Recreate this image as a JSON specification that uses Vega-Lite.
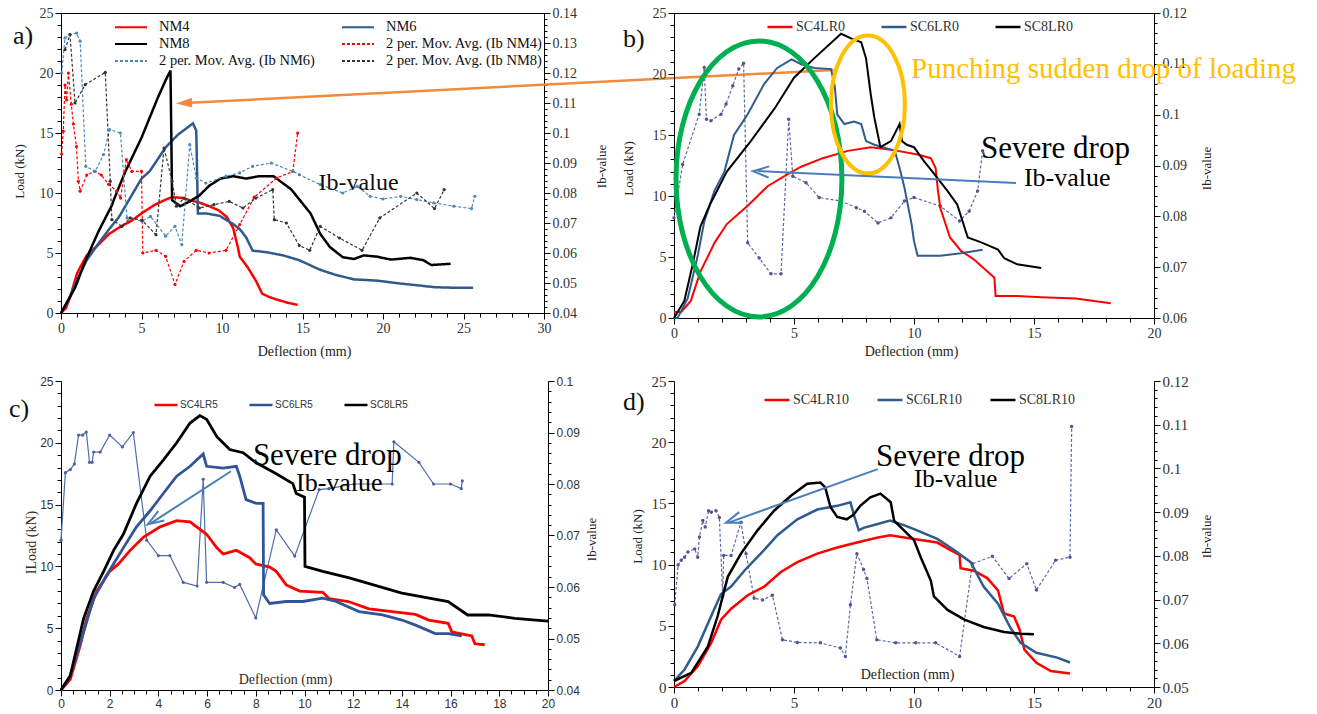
{
"$schema": "https://vega.github.io/schema/vega-lite/v6.json",
"background": "white",
"padding": {"left": 8, "top": 5, "right": 5, "bottom": 5},
"config": {"view": {"stroke": null}, "axis": {"grid": false, "labelOverlap": false, "domainColor": "#000", "tickColor": "#000", "titleFontWeight": "normal", "labelFlush": false}, "legend": {"padding": 0}, "font": "Liberation Serif"},
"columns": 2,
"bounds": "flush",
"spacing": {"row": 63, "column": 126},
"resolve": {"scale": {"color": "independent", "strokeDash": "independent"}, "legend": {"color": "independent", "strokeDash": "independent"}},
"datasets": {
"a_load": [
{"s":"NM4","x":0,"y":0},{"s":"NM4","x":0.3,"y":0.4},{"s":"NM4","x":0.56,"y":1.3},{"s":"NM4","x":0.8,"y":2.4},{"s":"NM4","x":1.0,"y":3.3},{"s":"NM4","x":1.19,"y":3.8},{"s":"NM4","x":1.6,"y":4.8},{"s":"NM4","x":2.33,"y":5.7},{"s":"NM4","x":3.0,"y":6.6},{"s":"NM4","x":3.7,"y":7.2},{"s":"NM4","x":4.4,"y":7.7},{"s":"NM4","x":5.0,"y":8.3},{"s":"NM4","x":5.8,"y":9.0},{"s":"NM4","x":6.5,"y":9.45},{"s":"NM4","x":6.9,"y":9.65},{"s":"NM4","x":7.5,"y":9.6},{"s":"NM4","x":8.0,"y":9.4},{"s":"NM4","x":8.6,"y":9.2},{"s":"NM4","x":9.2,"y":8.9},{"s":"NM4","x":9.8,"y":8.55},{"s":"NM4","x":10.3,"y":8.0},{"s":"NM4","x":10.7,"y":7.05},{"s":"NM4","x":11.0,"y":5.4},{"s":"NM4","x":11.1,"y":4.7},{"s":"NM4","x":11.6,"y":3.8},{"s":"NM4","x":12.1,"y":2.7},{"s":"NM4","x":12.5,"y":1.6},{"s":"NM4","x":13.0,"y":1.3},{"s":"NM4","x":13.6,"y":1.04},{"s":"NM4","x":14.1,"y":0.85},{"s":"NM4","x":14.7,"y":0.68},
{"s":"NM6","x":0,"y":0},{"s":"NM6","x":0.5,"y":1.2},{"s":"NM6","x":1.08,"y":3.0},{"s":"NM6","x":1.6,"y":4.4},{"s":"NM6","x":2.33,"y":5.8},{"s":"NM6","x":3.0,"y":7.0},{"s":"NM6","x":3.6,"y":8.0},{"s":"NM6","x":4.3,"y":9.6},{"s":"NM6","x":5.0,"y":11.2},{"s":"NM6","x":5.5,"y":11.8},{"s":"NM6","x":6.0,"y":12.8},{"s":"NM6","x":6.5,"y":13.8},{"s":"NM6","x":7.0,"y":14.5},{"s":"NM6","x":7.3,"y":14.9},{"s":"NM6","x":7.8,"y":15.4},{"s":"NM6","x":8.2,"y":15.8},{"s":"NM6","x":8.4,"y":15.2},{"s":"NM6","x":8.45,"y":12.0},{"s":"NM6","x":8.5,"y":8.3},{"s":"NM6","x":9.0,"y":8.3},{"s":"NM6","x":9.85,"y":8.1},{"s":"NM6","x":10.65,"y":7.45},{"s":"NM6","x":11.1,"y":7.0},{"s":"NM6","x":11.5,"y":6.3},{"s":"NM6","x":11.9,"y":5.2},{"s":"NM6","x":12.75,"y":5.07},{"s":"NM6","x":13.8,"y":4.8},{"s":"NM6","x":14.8,"y":4.4},{"s":"NM6","x":16.1,"y":3.6},{"s":"NM6","x":17.0,"y":3.2},{"s":"NM6","x":18.2,"y":2.8},{"s":"NM6","x":19.6,"y":2.7},{"s":"NM6","x":21.1,"y":2.45},{"s":"NM6","x":22.2,"y":2.3},{"s":"NM6","x":23.2,"y":2.15},{"s":"NM6","x":24.5,"y":2.1},{"s":"NM6","x":25.6,"y":2.1},
{"s":"NM8","x":0,"y":0},{"s":"NM8","x":0.5,"y":1.2},{"s":"NM8","x":0.875,"y":2.1},{"s":"NM8","x":1.5,"y":4.3},{"s":"NM8","x":2.33,"y":6.8},{"s":"NM8","x":3.17,"y":9.0},{"s":"NM8","x":3.3,"y":9.5},{"s":"NM8","x":4.0,"y":11.8},{"s":"NM8","x":5.0,"y":14.6},{"s":"NM8","x":6.0,"y":17.9},{"s":"NM8","x":6.5,"y":19.4},{"s":"NM8","x":6.8,"y":20.2},{"s":"NM8","x":6.85,"y":15.0},{"s":"NM8","x":6.9,"y":9.4},{"s":"NM8","x":7.4,"y":8.9},{"s":"NM8","x":8.0,"y":9.3},{"s":"NM8","x":8.6,"y":9.8},{"s":"NM8","x":9.2,"y":10.6},{"s":"NM8","x":9.9,"y":11.2},{"s":"NM8","x":10.7,"y":11.4},{"s":"NM8","x":11.5,"y":11.2},{"s":"NM8","x":12.3,"y":11.4},{"s":"NM8","x":13.2,"y":11.4},{"s":"NM8","x":13.6,"y":11.0},{"s":"NM8","x":14.3,"y":10.3},{"s":"NM8","x":14.9,"y":9.3},{"s":"NM8","x":15.5,"y":8.3},{"s":"NM8","x":16.1,"y":6.6},{"s":"NM8","x":16.7,"y":5.5},{"s":"NM8","x":17.5,"y":4.65},{"s":"NM8","x":18.2,"y":4.5},{"s":"NM8","x":18.8,"y":4.8},{"s":"NM8","x":19.6,"y":4.7},{"s":"NM8","x":20.5,"y":4.45},{"s":"NM8","x":21.7,"y":4.6},{"s":"NM8","x":22.5,"y":4.4},{"s":"NM8","x":23.0,"y":4.0},{"s":"NM8","x":24.2,"y":4.1}
],
"a_ib": [
{"s":"2 per. Mov. Avg. (Ib NM4)","x":0.04,"y":0.093},{"s":"2 per. Mov. Avg. (Ib NM4)","x":0.14,"y":0.1006},{"s":"2 per. Mov. Avg. (Ib NM4)","x":0.25,"y":0.116},{"s":"2 per. Mov. Avg. (Ib NM4)","x":0.35,"y":0.111},{"s":"2 per. Mov. Avg. (Ib NM4)","x":0.46,"y":0.12},{"s":"2 per. Mov. Avg. (Ib NM4)","x":0.64,"y":0.1096},{"s":"2 per. Mov. Avg. (Ib NM4)","x":0.77,"y":0.103},{"s":"2 per. Mov. Avg. (Ib NM4)","x":0.96,"y":0.0955},{"s":"2 per. Mov. Avg. (Ib NM4)","x":1.08,"y":0.0839},{"s":"2 per. Mov. Avg. (Ib NM4)","x":1.19,"y":0.0806},{"s":"2 per. Mov. Avg. (Ib NM4)","x":1.6,"y":0.086},{"s":"2 per. Mov. Avg. (Ib NM4)","x":2.1,"y":0.0872},{"s":"2 per. Mov. Avg. (Ib NM4)","x":2.5,"y":0.086},{"s":"2 per. Mov. Avg. (Ib NM4)","x":2.96,"y":0.0829},{"s":"2 per. Mov. Avg. (Ib NM4)","x":3.46,"y":0.0806},{"s":"2 per. Mov. Avg. (Ib NM4)","x":3.7,"y":0.0783},{"s":"2 per. Mov. Avg. (Ib NM4)","x":4.06,"y":0.0911},{"s":"2 per. Mov. Avg. (Ib NM4)","x":4.4,"y":0.0872},{"s":"2 per. Mov. Avg. (Ib NM4)","x":5.0,"y":0.0872},{"s":"2 per. Mov. Avg. (Ib NM4)","x":5.08,"y":0.06},{"s":"2 per. Mov. Avg. (Ib NM4)","x":5.9,"y":0.0609},{"s":"2 per. Mov. Avg. (Ib NM4)","x":6.5,"y":0.0589},{"s":"2 per. Mov. Avg. (Ib NM4)","x":7.08,"y":0.0495},{"s":"2 per. Mov. Avg. (Ib NM4)","x":7.64,"y":0.0572},{"s":"2 per. Mov. Avg. (Ib NM4)","x":8.4,"y":0.0609},{"s":"2 per. Mov. Avg. (Ib NM4)","x":9.2,"y":0.06},{"s":"2 per. Mov. Avg. (Ib NM4)","x":10.25,"y":0.0609},{"s":"2 per. Mov. Avg. (Ib NM4)","x":11.1,"y":0.0695},{"s":"2 per. Mov. Avg. (Ib NM4)","x":12.0,"y":0.0786},{"s":"2 per. Mov. Avg. (Ib NM4)","x":13.4,"y":0.085},{"s":"2 per. Mov. Avg. (Ib NM4)","x":14.4,"y":0.0872},{"s":"2 per. Mov. Avg. (Ib NM4)","x":14.7,"y":0.1},
{"s":"2 per. Mov. Avg. (Ib NM6)","x":0.04,"y":0.12},{"s":"2 per. Mov. Avg. (Ib NM6)","x":0.25,"y":0.1317},{"s":"2 per. Mov. Avg. (Ib NM6)","x":0.56,"y":0.1328},{"s":"2 per. Mov. Avg. (Ib NM6)","x":0.97,"y":0.1333},{"s":"2 per. Mov. Avg. (Ib NM6)","x":1.19,"y":0.1306},{"s":"2 per. Mov. Avg. (Ib NM6)","x":1.54,"y":0.0889},{"s":"2 per. Mov. Avg. (Ib NM6)","x":2.12,"y":0.0872},{"s":"2 per. Mov. Avg. (Ib NM6)","x":2.64,"y":0.0928},{"s":"2 per. Mov. Avg. (Ib NM6)","x":3.02,"y":0.1011},{"s":"2 per. Mov. Avg. (Ib NM6)","x":3.69,"y":0.1},{"s":"2 per. Mov. Avg. (Ib NM6)","x":4.1,"y":0.0717},{"s":"2 per. Mov. Avg. (Ib NM6)","x":5.04,"y":0.0706},{"s":"2 per. Mov. Avg. (Ib NM6)","x":5.56,"y":0.0722},{"s":"2 per. Mov. Avg. (Ib NM6)","x":6.5,"y":0.0656},{"s":"2 per. Mov. Avg. (Ib NM6)","x":7.08,"y":0.0689},{"s":"2 per. Mov. Avg. (Ib NM6)","x":7.5,"y":0.0628},{"s":"2 per. Mov. Avg. (Ib NM6)","x":8.0,"y":0.0961},{"s":"2 per. Mov. Avg. (Ib NM6)","x":8.4,"y":0.085},{"s":"2 per. Mov. Avg. (Ib NM6)","x":9.0,"y":0.0833},{"s":"2 per. Mov. Avg. (Ib NM6)","x":10.25,"y":0.0856},{"s":"2 per. Mov. Avg. (Ib NM6)","x":11.1,"y":0.0867},{"s":"2 per. Mov. Avg. (Ib NM6)","x":11.9,"y":0.0889},{"s":"2 per. Mov. Avg. (Ib NM6)","x":13.06,"y":0.09},{"s":"2 per. Mov. Avg. (Ib NM6)","x":14.4,"y":0.0872},{"s":"2 per. Mov. Avg. (Ib NM6)","x":14.8,"y":0.0861},{"s":"2 per. Mov. Avg. (Ib NM6)","x":16.1,"y":0.0828},{"s":"2 per. Mov. Avg. (Ib NM6)","x":17.5,"y":0.08},{"s":"2 per. Mov. Avg. (Ib NM6)","x":18.4,"y":0.0822},{"s":"2 per. Mov. Avg. (Ib NM6)","x":19.2,"y":0.0789},{"s":"2 per. Mov. Avg. (Ib NM6)","x":20.0,"y":0.078},{"s":"2 per. Mov. Avg. (Ib NM6)","x":21.1,"y":0.0789},{"s":"2 per. Mov. Avg. (Ib NM6)","x":22.1,"y":0.0778},{"s":"2 per. Mov. Avg. (Ib NM6)","x":23.15,"y":0.0767},{"s":"2 per. Mov. Avg. (Ib NM6)","x":24.4,"y":0.0756},{"s":"2 per. Mov. Avg. (Ib NM6)","x":25.5,"y":0.0748},{"s":"2 per. Mov. Avg. (Ib NM6)","x":25.7,"y":0.0789},
{"s":"2 per. Mov. Avg. (Ib NM8)","x":0.25,"y":0.1278},{"s":"2 per. Mov. Avg. (Ib NM8)","x":0.56,"y":0.1328},{"s":"2 per. Mov. Avg. (Ib NM8)","x":0.87,"y":0.11},{"s":"2 per. Mov. Avg. (Ib NM8)","x":1.5,"y":0.1161},{"s":"2 per. Mov. Avg. (Ib NM8)","x":2.75,"y":0.1202},{"s":"2 per. Mov. Avg. (Ib NM8)","x":3.06,"y":0.0839},{"s":"2 per. Mov. Avg. (Ib NM8)","x":3.16,"y":0.0711},{"s":"2 per. Mov. Avg. (Ib NM8)","x":3.79,"y":0.0689},{"s":"2 per. Mov. Avg. (Ib NM8)","x":4.3,"y":0.0717},{"s":"2 per. Mov. Avg. (Ib NM8)","x":5.04,"y":0.0709},{"s":"2 per. Mov. Avg. (Ib NM8)","x":5.9,"y":0.0661},{"s":"2 per. Mov. Avg. (Ib NM8)","x":6.4,"y":0.095},{"s":"2 per. Mov. Avg. (Ib NM8)","x":6.9,"y":0.0839},{"s":"2 per. Mov. Avg. (Ib NM8)","x":7.17,"y":0.0756},{"s":"2 per. Mov. Avg. (Ib NM8)","x":7.64,"y":0.0783},{"s":"2 per. Mov. Avg. (Ib NM8)","x":8.6,"y":0.075},{"s":"2 per. Mov. Avg. (Ib NM8)","x":9.5,"y":0.0761},{"s":"2 per. Mov. Avg. (Ib NM8)","x":10.45,"y":0.0772},{"s":"2 per. Mov. Avg. (Ib NM8)","x":11.3,"y":0.075},{"s":"2 per. Mov. Avg. (Ib NM8)","x":12.1,"y":0.0783},{"s":"2 per. Mov. Avg. (Ib NM8)","x":13.15,"y":0.0811},{"s":"2 per. Mov. Avg. (Ib NM8)","x":13.25,"y":0.0711},{"s":"2 per. Mov. Avg. (Ib NM8)","x":14.0,"y":0.07},{"s":"2 per. Mov. Avg. (Ib NM8)","x":14.8,"y":0.0625},{"s":"2 per. Mov. Avg. (Ib NM8)","x":15.45,"y":0.0609},{"s":"2 per. Mov. Avg. (Ib NM8)","x":16.1,"y":0.0689},{"s":"2 per. Mov. Avg. (Ib NM8)","x":17.3,"y":0.065},{"s":"2 per. Mov. Avg. (Ib NM8)","x":18.7,"y":0.0609},{"s":"2 per. Mov. Avg. (Ib NM8)","x":19.8,"y":0.0717},{"s":"2 per. Mov. Avg. (Ib NM8)","x":22.1,"y":0.08},{"s":"2 per. Mov. Avg. (Ib NM8)","x":23.2,"y":0.0748},{"s":"2 per. Mov. Avg. (Ib NM8)","x":23.8,"y":0.0811}
],
"b_load": [
{"s":"SC4LR0","x":0,"y":0.5},{"s":"SC4LR0","x":0.3,"y":0.5},{"s":"SC4LR0","x":0.7,"y":1.4},{"s":"SC4LR0","x":1.1,"y":3.8},{"s":"SC4LR0","x":1.7,"y":6.2},{"s":"SC4LR0","x":2.2,"y":7.7},{"s":"SC4LR0","x":3.07,"y":9.2},{"s":"SC4LR0","x":3.9,"y":10.8},{"s":"SC4LR0","x":4.74,"y":11.8},{"s":"SC4LR0","x":5.3,"y":12.4},{"s":"SC4LR0","x":6.2,"y":13.1},{"s":"SC4LR0","x":7.24,"y":13.7},{"s":"SC4LR0","x":8.2,"y":14.0},{"s":"SC4LR0","x":9.04,"y":13.8},{"s":"SC4LR0","x":10.15,"y":13.4},{"s":"SC4LR0","x":10.7,"y":13.1},{"s":"SC4LR0","x":10.9,"y":12.3},{"s":"SC4LR0","x":11.0,"y":10.4},{"s":"SC4LR0","x":11.1,"y":9.0},{"s":"SC4LR0","x":11.5,"y":6.6},{"s":"SC4LR0","x":11.96,"y":5.5},{"s":"SC4LR0","x":12.5,"y":4.8},{"s":"SC4LR0","x":13.07,"y":3.8},{"s":"SC4LR0","x":13.35,"y":3.3},{"s":"SC4LR0","x":13.4,"y":1.8},{"s":"SC4LR0","x":14.3,"y":1.8},{"s":"SC4LR0","x":15.3,"y":1.7},{"s":"SC4LR0","x":16.75,"y":1.6},{"s":"SC4LR0","x":17.5,"y":1.4},{"s":"SC4LR0","x":18.2,"y":1.2},
{"s":"SC6LR0","x":0,"y":0},{"s":"SC6LR0","x":0.15,"y":0},{"s":"SC6LR0","x":0.57,"y":1.6},{"s":"SC6LR0","x":1.0,"y":5.2},{"s":"SC6LR0","x":1.26,"y":7.9},{"s":"SC6LR0","x":1.68,"y":10.4},{"s":"SC6LR0","x":2.1,"y":12.0},{"s":"SC6LR0","x":2.5,"y":15.0},{"s":"SC6LR0","x":3.07,"y":16.7},{"s":"SC6LR0","x":3.76,"y":19.2},{"s":"SC6LR0","x":4.3,"y":20.5},{"s":"SC6LR0","x":4.9,"y":21.2},{"s":"SC6LR0","x":5.3,"y":20.8},{"s":"SC6LR0","x":5.85,"y":20.5},{"s":"SC6LR0","x":6.54,"y":20.4},{"s":"SC6LR0","x":6.7,"y":19.0},{"s":"SC6LR0","x":6.8,"y":16.7},{"s":"SC6LR0","x":7.1,"y":15.9},{"s":"SC6LR0","x":7.5,"y":16.1},{"s":"SC6LR0","x":7.8,"y":15.9},{"s":"SC6LR0","x":8.0,"y":14.5},{"s":"SC6LR0","x":8.35,"y":14.2},{"s":"SC6LR0","x":9.2,"y":13.7},{"s":"SC6LR0","x":9.4,"y":12.3},{"s":"SC6LR0","x":9.6,"y":10.7},{"s":"SC6LR0","x":9.9,"y":7.7},{"s":"SC6LR0","x":10.0,"y":6.3},{"s":"SC6LR0","x":10.15,"y":5.1},{"s":"SC6LR0","x":11.1,"y":5.1},{"s":"SC6LR0","x":11.96,"y":5.3},{"s":"SC6LR0","x":12.86,"y":5.6},
{"s":"SC8LR0","x":0,"y":0},{"s":"SC8LR0","x":0.43,"y":1.4},{"s":"SC8LR0","x":0.78,"y":4.4},{"s":"SC8LR0","x":1.1,"y":7.5},{"s":"SC8LR0","x":1.5,"y":9.3},{"s":"SC8LR0","x":2.2,"y":12.0},{"s":"SC8LR0","x":3.2,"y":14.5},{"s":"SC8LR0","x":4.2,"y":17.2},{"s":"SC8LR0","x":5.0,"y":19.7},{"s":"SC8LR0","x":5.85,"y":21.3},{"s":"SC8LR0","x":6.96,"y":23.3},{"s":"SC8LR0","x":7.4,"y":22.9},{"s":"SC8LR0","x":7.8,"y":22.6},{"s":"SC8LR0","x":8.0,"y":21.3},{"s":"SC8LR0","x":8.2,"y":18.3},{"s":"SC8LR0","x":8.35,"y":16.4},{"s":"SC8LR0","x":8.6,"y":14.0},{"s":"SC8LR0","x":9.04,"y":14.5},{"s":"SC8LR0","x":9.4,"y":15.9},{"s":"SC8LR0","x":9.5,"y":14.5},{"s":"SC8LR0","x":9.7,"y":14.2},{"s":"SC8LR0","x":10.0,"y":14.0},{"s":"SC8LR0","x":10.4,"y":12.9},{"s":"SC8LR0","x":10.85,"y":11.8},{"s":"SC8LR0","x":11.4,"y":10.4},{"s":"SC8LR0","x":11.8,"y":9.3},{"s":"SC8LR0","x":12.24,"y":6.6},{"s":"SC8LR0","x":12.8,"y":6.2},{"s":"SC8LR0","x":13.5,"y":5.6},{"s":"SC8LR0","x":13.76,"y":4.9},{"s":"SC8LR0","x":14.3,"y":4.4},{"s":"SC8LR0","x":15.3,"y":4.1}
],
"b_ib": [
{"x":0,"y":0.0797},{"x":0.36,"y":0.0902},{"x":1.05,"y":0.1001},{"x":1.26,"y":0.1093},{"x":1.35,"y":0.0991},{"x":1.54,"y":0.0988},{"x":1.96,"y":0.1001},{"x":2.17,"y":0.1021},{"x":2.45,"y":0.1057},{"x":2.7,"y":0.109},{"x":2.9,"y":0.1101},{"x":3.07,"y":0.0748},{"x":3.55,"y":0.0718},{"x":4.04,"y":0.0687},{"x":4.46,"y":0.0687},{"x":4.78,"y":0.0991},{"x":4.95,"y":0.0879},{"x":5.5,"y":0.0866},{"x":6.05,"y":0.0837},{"x":6.96,"y":0.083},{"x":7.6,"y":0.0817},{"x":7.93,"y":0.081},{"x":8.5,"y":0.0787},{"x":9.04,"y":0.0797},{"x":9.6,"y":0.083},{"x":10.0,"y":0.0837},{"x":11.1,"y":0.082},{"x":11.9,"y":0.0791},{"x":12.3,"y":0.081},{"x":12.65,"y":0.085},{"x":12.86,"y":0.0929}
],
"c_load": [
{"s":"SC4LR5","x":0,"y":0},{"s":"SC4LR5","x":0.38,"y":0.87},{"s":"SC4LR5","x":0.79,"y":3.6},{"s":"SC4LR5","x":1.06,"y":5.8},{"s":"SC4LR5","x":1.47,"y":8.0},{"s":"SC4LR5","x":2.0,"y":9.6},{"s":"SC4LR5","x":2.36,"y":10.2},{"s":"SC4LR5","x":2.84,"y":11.3},{"s":"SC4LR5","x":3.38,"y":12.35},{"s":"SC4LR5","x":4.07,"y":13.2},{"s":"SC4LR5","x":4.75,"y":13.7},{"s":"SC4LR5","x":5.3,"y":13.6},{"s":"SC4LR5","x":5.57,"y":13.2},{"s":"SC4LR5","x":5.98,"y":12.6},{"s":"SC4LR5","x":6.4,"y":11.5},{"s":"SC4LR5","x":6.66,"y":11.0},{"s":"SC4LR5","x":7.2,"y":11.3},{"s":"SC4LR5","x":7.75,"y":10.7},{"s":"SC4LR5","x":8.0,"y":10.2},{"s":"SC4LR5","x":8.57,"y":9.95},{"s":"SC4LR5","x":8.84,"y":9.6},{"s":"SC4LR5","x":9.25,"y":8.5},{"s":"SC4LR5","x":9.8,"y":8.0},{"s":"SC4LR5","x":10.75,"y":7.9},{"s":"SC4LR5","x":11.0,"y":7.4},{"s":"SC4LR5","x":11.8,"y":7.16},{"s":"SC4LR5","x":12.65,"y":6.56},{"s":"SC4LR5","x":13.6,"y":6.34},{"s":"SC4LR5","x":14.56,"y":6.12},{"s":"SC4LR5","x":15.1,"y":5.66},{"s":"SC4LR5","x":15.9,"y":5.4},{"s":"SC4LR5","x":16.05,"y":4.7},{"s":"SC4LR5","x":16.87,"y":4.37},{"s":"SC4LR5","x":17.0,"y":3.74},{"s":"SC4LR5","x":17.4,"y":3.66},
{"s":"SC6LR5","x":0,"y":0},{"s":"SC6LR5","x":0.38,"y":1.15},{"s":"SC6LR5","x":0.93,"y":4.7},{"s":"SC6LR5","x":1.34,"y":7.4},{"s":"SC6LR5","x":1.88,"y":9.3},{"s":"SC6LR5","x":2.56,"y":11.5},{"s":"SC6LR5","x":3.1,"y":13.2},{"s":"SC6LR5","x":3.66,"y":14.5},{"s":"SC6LR5","x":4.2,"y":15.9},{"s":"SC6LR5","x":4.75,"y":17.3},{"s":"SC6LR5","x":5.3,"y":18.1},{"s":"SC6LR5","x":5.84,"y":19.1},{"s":"SC6LR5","x":5.98,"y":18.1},{"s":"SC6LR5","x":6.66,"y":17.95},{"s":"SC6LR5","x":7.2,"y":18.1},{"s":"SC6LR5","x":7.34,"y":17.3},{"s":"SC6LR5","x":7.6,"y":15.4},{"s":"SC6LR5","x":8.02,"y":15.1},{"s":"SC6LR5","x":8.3,"y":15.1},{"s":"SC6LR5","x":8.32,"y":7.7},{"s":"SC6LR5","x":8.57,"y":7.0},{"s":"SC6LR5","x":9.25,"y":7.16},{"s":"SC6LR5","x":9.93,"y":7.16},{"s":"SC6LR5","x":10.75,"y":7.43},{"s":"SC6LR5","x":11.3,"y":7.16},{"s":"SC6LR5","x":12.24,"y":6.34},{"s":"SC6LR5","x":13.2,"y":6.07},{"s":"SC6LR5","x":14.0,"y":5.66},{"s":"SC6LR5","x":14.56,"y":5.25},{"s":"SC6LR5","x":15.37,"y":4.56},{"s":"SC6LR5","x":15.9,"y":4.56},{"s":"SC6LR5","x":16.46,"y":4.37},
{"s":"SC8LR5","x":0,"y":0},{"s":"SC8LR5","x":0.38,"y":1.15},{"s":"SC8LR5","x":0.93,"y":5.8},{"s":"SC8LR5","x":1.34,"y":8.0},{"s":"SC8LR5","x":1.75,"y":9.6},{"s":"SC8LR5","x":2.16,"y":11.3},{"s":"SC8LR5","x":2.56,"y":12.6},{"s":"SC8LR5","x":3.1,"y":15.1},{"s":"SC8LR5","x":3.66,"y":17.3},{"s":"SC8LR5","x":4.2,"y":18.6},{"s":"SC8LR5","x":4.75,"y":20.0},{"s":"SC8LR5","x":5.3,"y":21.6},{"s":"SC8LR5","x":5.7,"y":22.2},{"s":"SC8LR5","x":5.98,"y":21.9},{"s":"SC8LR5","x":6.4,"y":20.5},{"s":"SC8LR5","x":6.93,"y":19.45},{"s":"SC8LR5","x":7.48,"y":19.2},{"s":"SC8LR5","x":8.0,"y":18.4},{"s":"SC8LR5","x":8.84,"y":17.5},{"s":"SC8LR5","x":9.52,"y":16.7},{"s":"SC8LR5","x":9.66,"y":15.9},{"s":"SC8LR5","x":10.0,"y":15.6},{"s":"SC8LR5","x":10.02,"y":10.0},{"s":"SC8LR5","x":10.75,"y":9.6},{"s":"SC8LR5","x":11.84,"y":9.07},{"s":"SC8LR5","x":14.0,"y":7.84},{"s":"SC8LR5","x":15.9,"y":7.16},{"s":"SC8LR5","x":16.7,"y":6.07},{"s":"SC8LR5","x":17.55,"y":6.07},{"s":"SC8LR5","x":18.64,"y":5.8},{"s":"SC8LR5","x":20.0,"y":5.57}
],
"c_ib": [
{"x":0,"y":0.0691},{"x":0.18,"y":0.0822},{"x":0.38,"y":0.0828},{"x":0.55,"y":0.0839},{"x":0.72,"y":0.0895},{"x":0.89,"y":0.0895},{"x":1.04,"y":0.0901},{"x":1.17,"y":0.0842},{"x":1.28,"y":0.0842},{"x":1.34,"y":0.0862},{"x":1.61,"y":0.0862},{"x":2.0,"y":0.0895},{"x":2.52,"y":0.0872},{"x":2.97,"y":0.09},{"x":3.52,"y":0.0691},{"x":4.0,"y":0.0661},{"x":4.47,"y":0.0661},{"x":5.02,"y":0.0609},{"x":5.59,"y":0.0602},{"x":5.84,"y":0.0809},{"x":5.98,"y":0.0609},{"x":6.66,"y":0.0609},{"x":7.13,"y":0.0599},{"x":7.34,"y":0.0605},{"x":8.0,"y":0.054},{"x":8.84,"y":0.0711},{"x":9.6,"y":0.066},{"x":10.6,"y":0.0789},{"x":11.0,"y":0.0791},{"x":12.04,"y":0.08},{"x":13.6,"y":0.08},{"x":13.67,"y":0.0882},{"x":14.7,"y":0.0842},{"x":15.3,"y":0.08},{"x":16.0,"y":0.08},{"x":16.44,"y":0.0791},{"x":16.48,"y":0.0806}
],
"d_load": [
{"s":"SC4LR10","x":0,"y":0},{"s":"SC4LR10","x":0.44,"y":0.49},{"s":"SC4LR10","x":0.99,"y":1.7},{"s":"SC4LR10","x":1.55,"y":3.6},{"s":"SC4LR10","x":1.96,"y":5.5},{"s":"SC4LR10","x":2.38,"y":6.4},{"s":"SC4LR10","x":3.07,"y":7.5},{"s":"SC4LR10","x":3.76,"y":8.2},{"s":"SC4LR10","x":4.45,"y":9.4},{"s":"SC4LR10","x":5.14,"y":10.2},{"s":"SC4LR10","x":5.97,"y":10.9},{"s":"SC4LR10","x":6.8,"y":11.4},{"s":"SC4LR10","x":7.62,"y":11.8},{"s":"SC4LR10","x":8.45,"y":12.2},{"s":"SC4LR10","x":9.0,"y":12.4},{"s":"SC4LR10","x":10.0,"y":12.1},{"s":"SC4LR10","x":10.97,"y":11.8},{"s":"SC4LR10","x":11.5,"y":11.2},{"s":"SC4LR10","x":11.9,"y":10.8},{"s":"SC4LR10","x":11.94,"y":9.7},{"s":"SC4LR10","x":12.5,"y":9.5},{"s":"SC4LR10","x":13.05,"y":8.9},{"s":"SC4LR10","x":13.5,"y":7.9},{"s":"SC4LR10","x":13.75,"y":6.0},{"s":"SC4LR10","x":14.17,"y":5.76},{"s":"SC4LR10","x":14.4,"y":4.7},{"s":"SC4LR10","x":14.6,"y":3.05},{"s":"SC4LR10","x":15.1,"y":1.97},{"s":"SC4LR10","x":15.7,"y":1.3},{"s":"SC4LR10","x":16.5,"y":1.1},
{"s":"SC6LR10","x":0,"y":0.49},{"s":"SC6LR10","x":0.44,"y":1.43},{"s":"SC6LR10","x":0.99,"y":3.3},{"s":"SC6LR10","x":1.55,"y":5.8},{"s":"SC6LR10","x":1.96,"y":7.6},{"s":"SC6LR10","x":2.38,"y":8.2},{"s":"SC6LR10","x":2.93,"y":9.5},{"s":"SC6LR10","x":3.76,"y":11.2},{"s":"SC6LR10","x":4.31,"y":12.4},{"s":"SC6LR10","x":5.14,"y":13.7},{"s":"SC6LR10","x":5.97,"y":14.5},{"s":"SC6LR10","x":6.8,"y":14.8},{"s":"SC6LR10","x":7.35,"y":15.1},{"s":"SC6LR10","x":7.49,"y":14.1},{"s":"SC6LR10","x":7.7,"y":12.8},{"s":"SC6LR10","x":7.9,"y":13.0},{"s":"SC6LR10","x":8.45,"y":13.3},{"s":"SC6LR10","x":9.0,"y":13.6},{"s":"SC6LR10","x":9.6,"y":13.2},{"s":"SC6LR10","x":10.0,"y":12.9},{"s":"SC6LR10","x":10.97,"y":12.1},{"s":"SC6LR10","x":11.67,"y":11.2},{"s":"SC6LR10","x":12.36,"y":10.2},{"s":"SC6LR10","x":12.9,"y":8.2},{"s":"SC6LR10","x":13.5,"y":6.8},{"s":"SC6LR10","x":14.0,"y":4.9},{"s":"SC6LR10","x":14.44,"y":3.6},{"s":"SC6LR10","x":15.1,"y":2.8},{"s":"SC6LR10","x":15.97,"y":2.4},{"s":"SC6LR10","x":16.5,"y":2.0},
{"s":"SC8LR10","x":0,"y":0.49},{"s":"SC8LR10","x":0.72,"y":1.16},{"s":"SC8LR10","x":1.41,"y":3.3},{"s":"SC8LR10","x":1.82,"y":5.8},{"s":"SC8LR10","x":2.24,"y":9.0},{"s":"SC8LR10","x":2.79,"y":10.9},{"s":"SC8LR10","x":3.48,"y":12.8},{"s":"SC8LR10","x":4.17,"y":14.4},{"s":"SC8LR10","x":4.86,"y":15.6},{"s":"SC8LR10","x":5.55,"y":16.6},{"s":"SC8LR10","x":6.1,"y":16.7},{"s":"SC8LR10","x":6.3,"y":16.3},{"s":"SC8LR10","x":6.52,"y":14.7},{"s":"SC8LR10","x":6.8,"y":13.9},{"s":"SC8LR10","x":7.2,"y":13.7},{"s":"SC8LR10","x":7.49,"y":14.1},{"s":"SC8LR10","x":7.76,"y":14.8},{"s":"SC8LR10","x":8.18,"y":15.5},{"s":"SC8LR10","x":8.6,"y":15.8},{"s":"SC8LR10","x":9.03,"y":15.1},{"s":"SC8LR10","x":9.17,"y":13.6},{"s":"SC8LR10","x":9.58,"y":12.8},{"s":"SC8LR10","x":10.0,"y":12.0},{"s":"SC8LR10","x":10.28,"y":10.6},{"s":"SC8LR10","x":10.7,"y":8.7},{"s":"SC8LR10","x":10.83,"y":7.4},{"s":"SC8LR10","x":11.4,"y":6.3},{"s":"SC8LR10","x":12.1,"y":5.5},{"s":"SC8LR10","x":12.9,"y":4.9},{"s":"SC8LR10","x":13.75,"y":4.5},{"s":"SC8LR10","x":14.44,"y":4.35},{"s":"SC8LR10","x":15.0,"y":4.3}
],
"d_ib": [
{"x":0.03,"y":0.0688},{"x":0.17,"y":0.0779},{"x":0.3,"y":0.079},{"x":0.44,"y":0.0797},{"x":0.58,"y":0.0809},{"x":0.86,"y":0.0816},{"x":0.99,"y":0.0797},{"x":1.06,"y":0.0843},{"x":1.2,"y":0.0881},{"x":1.3,"y":0.0866},{"x":1.44,"y":0.0903},{"x":1.55,"y":0.09},{"x":1.75,"y":0.0903},{"x":1.89,"y":0.0888},{"x":2.03,"y":0.0707},{"x":2.07,"y":0.0801},{"x":2.38,"y":0.0801},{"x":2.79,"y":0.0877},{"x":3.0,"y":0.0805},{"x":3.34,"y":0.0703},{"x":3.69,"y":0.0699},{"x":4.1,"y":0.071},{"x":4.52,"y":0.0608},{"x":5.14,"y":0.0602},{"x":6.1,"y":0.0601},{"x":6.93,"y":0.0589},{"x":7.14,"y":0.057},{"x":7.35,"y":0.0688},{"x":7.62,"y":0.0805},{"x":7.9,"y":0.0769},{"x":8.04,"y":0.0748},{"x":8.45,"y":0.0608},{"x":9.24,"y":0.0601},{"x":10.07,"y":0.0601},{"x":10.9,"y":0.0601},{"x":11.9,"y":0.057},{"x":12.43,"y":0.0782},{"x":13.26,"y":0.0799},{"x":13.96,"y":0.0748},{"x":14.7,"y":0.0782},{"x":15.1,"y":0.0722},{"x":15.9,"y":0.079},{"x":16.5,"y":0.0797},{"x":16.57,"y":0.1096}
]
},
"concat": [
{
"width": 483, "height": 300,
"view": {"stroke": "#000", "strokeWidth": 1},
"resolve": {"scale": {"y": "independent"}, "axis": {"x": "independent"}},
"layer": [
{"data": {"name": "a_load"}, "mark": {"type": "line", "strokeWidth": 2.5},
 "encoding": {
  "x": {"field": "x", "type": "quantitative", "scale": {"domain": [0, 30], "nice": false},
   "axis": {"title": "Deflection (mm)", "values": [0,1,2,3,4,5,6,7,8,9,10,11,12,13,14,15,16,17,18,19,20,21,22,23,24,25,26,27,28,29,30], "format": "~g", "labelOverlap": false, "labelExpr": "datum.value % 5 === 0 ? datum.label : ''", "tickSize": {"condition": {"test": "datum.value % 5 === 0", "value": 6}, "value": 4}, "labelFont": "Liberation Serif", "labelFontSize": 14, "labelColor": "#333", "titleFont": "Liberation Serif", "titleFontSize": 14, "titleColor": "#222", "titleX": 243, "titleY": 38, "titleAlign": "center", "titleBaseline": "middle"}},
  "y": {"field": "y", "type": "quantitative", "scale": {"domain": [0, 25], "nice": false},
   "axis": {"title": "Load (kN)", "orient": "left", "values": [0,1,2,3,4,5,6,7,8,9,10,11,12,13,14,15,16,17,18,19,20,21,22,23,24,25], "labelOverlap": false, "labelExpr": "datum.value % 5 === 0 ? datum.label : ''", "tickSize": {"condition": {"test": "datum.value % 5 === 0", "value": 6}, "value": 4}, "labelFont": "Liberation Serif", "labelFontSize": 14, "labelColor": "#333", "titleFont": "Liberation Serif", "titleFontSize": 13, "titleColor": "#222", "titleX": -42, "titleY": 158, "titleAngle": -90, "titleAlign": "center", "titleBaseline": "middle"}},
  "color": {"field": "s", "type": "nominal", "scale": {"domain": ["NM4","NM8","2 per. Mov. Avg. (Ib NM6)","NM6","2 per. Mov. Avg. (Ib NM4)","2 per. Mov. Avg. (Ib NM8)"], "range": ["#ff0000","#000000","#4a8ab8","#2e5a8c","#ff0000","#333333"]},
   "legend": {"title": null, "orient": "none", "legendX": 61, "legendY": 5, "columns": 2, "symbolType": "M -2 0 L 2 0", "symbolSize": 256, "symbolStrokeWidth": 2, "labelFont": "Liberation Serif", "labelFontSize": 14.5, "labelColor": "#111", "rowPadding": 1, "columnPadding": 22, "labelLimit": 400, "labelOffset": 19}},
  "strokeDash": {"field": "s", "type": "nominal", "scale": {"domain": ["NM4","NM8","2 per. Mov. Avg. (Ib NM6)","NM6","2 per. Mov. Avg. (Ib NM4)","2 per. Mov. Avg. (Ib NM8)"], "range": [[1,0],[1,0],[3,2],[1,0],[3,2],[3,2]]},
   "legend": {"title": null, "orient": "none", "legendX": 61, "legendY": 5, "columns": 2, "symbolType": "M -2 0 L 2 0", "symbolSize": 256, "symbolStrokeWidth": 2, "labelFont": "Liberation Serif", "labelFontSize": 14.5, "labelColor": "#111", "rowPadding": 1, "columnPadding": 22, "labelLimit": 400, "labelOffset": 19}}
 }},
{"data": {"name": "a_ib"}, "mark": {"type": "line", "strokeWidth": 1.2, "point": {"filled": true, "size": 10, "opacity": 1}},
 "encoding": {
  "x": {"field": "x", "type": "quantitative", "scale": {"domain": [0, 30], "nice": false}, "axis": null},
  "y": {"field": "y", "type": "quantitative", "scale": {"domain": [0.04, 0.14], "nice": false, "zero": false},
   "axis": {"title": "Ib-value", "orient": "right", "values": [0.04,0.042,0.044,0.046,0.048,0.05,0.052,0.054,0.056,0.058,0.06,0.062,0.064,0.066,0.068,0.07,0.072,0.074,0.076,0.078,0.08,0.082,0.084,0.086,0.088,0.09,0.092,0.094,0.096,0.098,0.1,0.102,0.104,0.106,0.108,0.11,0.112,0.114,0.116,0.118,0.12,0.122,0.124,0.126,0.128,0.13,0.132,0.134,0.136,0.138,0.14], "format": "~g", "labelOverlap": false, "labelExpr": "abs(datum.value*100 - round(datum.value*100)) < 0.001 ? datum.label : ''", "tickSize": {"condition": {"test": "abs(datum.value*100 - round(datum.value*100)) < 0.001", "value": 6}, "value": 3}, "labelFont": "Liberation Serif", "labelFontSize": 14, "labelColor": "#333", "titleFont": "Liberation Serif", "titleFontSize": 13, "titleColor": "#222", "titleX": 57, "titleY": 153, "titleAngle": -90, "titleAlign": "center", "titleBaseline": "middle"}},
  "color": {"field": "s", "type": "nominal", "scale": {"domain": ["NM4","NM8","2 per. Mov. Avg. (Ib NM6)","NM6","2 per. Mov. Avg. (Ib NM4)","2 per. Mov. Avg. (Ib NM8)"], "range": ["#ff0000","#000000","#4a8ab8","#2e5a8c","#ff0000","#333333"]},
   "legend": {"title": null, "orient": "none", "legendX": 61, "legendY": 5, "columns": 2, "symbolType": "M -2 0 L 2 0", "symbolSize": 256, "symbolStrokeWidth": 2, "labelFont": "Liberation Serif", "labelFontSize": 14.5, "labelColor": "#111", "rowPadding": 1, "columnPadding": 22, "labelLimit": 400, "labelOffset": 19}},
  "strokeDash": {"field": "s", "type": "nominal", "scale": {"domain": ["NM4","NM8","2 per. Mov. Avg. (Ib NM6)","NM6","2 per. Mov. Avg. (Ib NM4)","2 per. Mov. Avg. (Ib NM8)"], "range": [[1,0],[1,0],[3,2],[1,0],[3,2],[3,2]]},
   "legend": {"title": null, "orient": "none", "legendX": 61, "legendY": 5, "columns": 2, "symbolType": "M -2 0 L 2 0", "symbolSize": 256, "symbolStrokeWidth": 2, "labelFont": "Liberation Serif", "labelFontSize": 14.5, "labelColor": "#111", "rowPadding": 1, "columnPadding": 22, "labelLimit": 400, "labelOffset": 19}}
 }},
{"data": {"values": [{"x": 48.0, "y": 20.25, "x2": 7.7, "y2": 17.5}]}, "mark": {"type": "rule", "color": "#f08a3c", "strokeWidth": 2.5},
 "encoding": {"x": {"field": "x", "type": "quantitative", "scale": {"domain": [0, 30], "nice": false}, "axis": null}, "y": {"field": "y", "type": "quantitative", "scale": {"domain": [0, 25], "nice": false}, "axis": null}, "x2": {"field": "x2"}, "y2": {"field": "y2"}}},
{"data": {"values": [{"x": 7.64, "y": 17.5}]}, "mark": {"type": "point", "shape": "M -1 0 L 1 -0.6 L 1 0.6 Z", "size": 256, "filled": true, "color": "#f08a3c", "opacity": 1, "angle": -2.9},
 "encoding": {"x": {"field": "x", "type": "quantitative", "scale": {"domain": [0, 30], "nice": false}, "axis": null}, "y": {"field": "y", "type": "quantitative", "scale": {"domain": [0, 25], "nice": false}, "axis": null}}},
{"data": {"values": [{"x": -2.98, "y": 23.1, "t": "a)"}]}, "mark": {"type": "text", "font": "Liberation Serif", "fontSize": 26, "align": "left", "baseline": "middle", "color": "#111"},
 "encoding": {"x": {"field": "x", "type": "quantitative", "scale": {"domain": [0, 30], "nice": false}, "axis": null}, "y": {"field": "y", "type": "quantitative", "scale": {"domain": [0, 25], "nice": false}, "axis": null}, "text": {"field": "t"}}},
{"data": {"values": [{"x": 16.0, "y": 10.8, "t": "Ib-value"}]}, "mark": {"type": "text", "font": "Liberation Serif", "fontSize": 24, "align": "left", "baseline": "middle", "color": "#111"},
 "encoding": {"x": {"field": "x", "type": "quantitative", "scale": {"domain": [0, 30], "nice": false}, "axis": null}, "y": {"field": "y", "type": "quantitative", "scale": {"domain": [0, 25], "nice": false}, "axis": null}, "text": {"field": "t"}}}
]
},
{
"width": 480, "height": 305,
"view": {"stroke": "#000", "strokeWidth": 1},
"resolve": {"scale": {"y": "independent"}, "axis": {"x": "independent"}},
"layer": [
{"data": {"name": "b_ib"}, "mark": {"type": "line", "strokeWidth": 1.2, "strokeDash": [3, 2], "color": "#5b6aa0", "point": {"filled": true, "size": 12, "opacity": 1, "color": "#5b4f9a"}},
 "encoding": {
  "x": {"field": "x", "type": "quantitative", "scale": {"domain": [0, 20], "nice": false},
   "axis": {"title": "Deflection (mm)", "values": [0,1,2,3,4,5,6,7,8,9,10,11,12,13,14,15,16,17,18,19,20], "format": "~g", "labelOverlap": false, "labelExpr": "datum.value % 5 === 0 ? datum.label : ''", "tickSize": {"condition": {"test": "datum.value % 5 === 0", "value": 6}, "value": 4}, "labelFont": "Liberation Serif", "labelFontSize": 14, "labelColor": "#333", "titleFont": "Liberation Serif", "titleFontSize": 14, "titleColor": "#222", "titleX": 237, "titleY": 33, "titleAlign": "center", "titleBaseline": "middle"}},
  "y": {"field": "y", "type": "quantitative", "scale": {"domain": [0.06, 0.12], "nice": false, "zero": false},
   "axis": {"title": "Ib-value", "orient": "right", "values": [0.06,0.062,0.064,0.066,0.068,0.07,0.072,0.074,0.076,0.078,0.08,0.082,0.084,0.086,0.088,0.09,0.092,0.094,0.096,0.098,0.1,0.102,0.104,0.106,0.108,0.11,0.112,0.114,0.116,0.118,0.12], "format": "~g", "labelOverlap": false, "labelExpr": "abs(datum.value*100 - round(datum.value*100)) < 0.001 ? datum.label : ''", "tickSize": {"condition": {"test": "abs(datum.value*100 - round(datum.value*100)) < 0.001", "value": 6}, "value": 3}, "labelFont": "Liberation Serif", "labelFontSize": 14, "labelColor": "#333", "titleFont": "Liberation Serif", "titleFontSize": 13, "titleColor": "#222", "titleX": 52, "titleY": 155, "titleAngle": -90, "titleAlign": "center", "titleBaseline": "middle"}}
 }},
{"data": {"name": "b_load"}, "mark": {"type": "line", "strokeWidth": 2},
 "encoding": {
  "x": {"field": "x", "type": "quantitative", "scale": {"domain": [0, 20], "nice": false}, "axis": null},
  "y": {"field": "y", "type": "quantitative", "scale": {"domain": [0, 25], "nice": false},
   "axis": {"title": "Load (kN)", "orient": "left", "values": [0,1,2,3,4,5,6,7,8,9,10,11,12,13,14,15,16,17,18,19,20,21,22,23,24,25], "labelOverlap": false, "labelExpr": "datum.value % 5 === 0 ? datum.label : ''", "tickSize": {"condition": {"test": "datum.value % 5 === 0", "value": 6}, "value": 4}, "labelFont": "Liberation Serif", "labelFontSize": 14, "labelColor": "#333", "titleFont": "Liberation Serif", "titleFontSize": 13, "titleColor": "#222", "titleX": -46, "titleY": 155, "titleAngle": -90, "titleAlign": "center", "titleBaseline": "middle"}},
  "color": {"field": "s", "type": "nominal", "scale": {"domain": ["SC4LR0","SC6LR0","SC8LR0"], "range": ["#ff0000","#2f5b8f","#000000"]},
   "legend": {"title": null, "orient": "none", "legendX": 92, "legendY": 0, "direction": "horizontal", "symbolType": "stroke", "symbolSize": 625, "symbolStrokeWidth": 2.5, "labelFont": "Liberation Serif", "labelFontSize": 14, "labelColor": "#333", "columnPadding": 30, "labelOffset": 2}}
 }},
{"data": {"values": [{"x": 3.54, "y": 11.4}]}, "mark": {"type": "point", "shape": "M -0.601 0 A 0.601 1 0 1 0 0.601 0 A 0.601 1 0 1 0 -0.601 0 Z", "size": 76176, "filled": false, "color": "#00b050", "strokeWidth": 5, "opacity": 1},
 "encoding": {"x": {"field": "x", "type": "quantitative", "scale": {"domain": [0, 20], "nice": false}, "axis": null}, "y": {"field": "y", "type": "quantitative", "scale": {"domain": [0, 25], "nice": false}, "axis": null}}},
{"data": {"values": [{"x": 8.08, "y": 17.5}]}, "mark": {"type": "point", "shape": "M -0.536 0 A 0.536 1 0 1 0 0.536 0 A 0.536 1 0 1 0 -0.536 0 Z", "size": 19044, "filled": false, "color": "#ffc000", "strokeWidth": 4, "opacity": 1},
 "encoding": {"x": {"field": "x", "type": "quantitative", "scale": {"domain": [0, 20], "nice": false}, "axis": null}, "y": {"field": "y", "type": "quantitative", "scale": {"domain": [0, 25], "nice": false}, "axis": null}}},
{"data": {"values": [{"x": 14.25, "y": 11.07, "x2": 3.5, "y2": 12.05}]}, "mark": {"type": "rule", "color": "#4a7ebb", "strokeWidth": 2},
 "encoding": {"x": {"field": "x", "type": "quantitative", "scale": {"domain": [0, 20], "nice": false}, "axis": null}, "y": {"field": "y", "type": "quantitative", "scale": {"domain": [0, 25], "nice": false}, "axis": null}, "x2": {"field": "x2"}, "y2": {"field": "y2"}}},
{"data": {"values": [{"x": 3.625, "y": 12.0}]}, "mark": {"type": "point", "shape": "M 1 -0.7 L -1 0 L 1 0.7", "size": 256, "filled": false, "color": "#4a7ebb", "strokeWidth": 2, "opacity": 1, "angle": 2.6},
 "encoding": {"x": {"field": "x", "type": "quantitative", "scale": {"domain": [0, 20], "nice": false}, "axis": null}, "y": {"field": "y", "type": "quantitative", "scale": {"domain": [0, 25], "nice": false}, "axis": null}}},
{"data": {"values": [{"x": -2.125, "y": 22.9, "t": "b)"}]}, "mark": {"type": "text", "font": "Liberation Serif", "fontSize": 26, "align": "left", "baseline": "middle", "color": "#111"},
 "encoding": {"x": {"field": "x", "type": "quantitative", "scale": {"domain": [0, 20], "nice": false}, "axis": null}, "y": {"field": "y", "type": "quantitative", "scale": {"domain": [0, 25], "nice": false}, "axis": null}, "text": {"field": "t"}}},
{"data": {"values": [{"x": 9.875, "y": 20.4, "t": "Punching sudden drop of loading"}]}, "mark": {"type": "text", "font": "Liberation Serif", "fontSize": 29, "align": "left", "baseline": "middle", "color": "#ffc000"},
 "encoding": {"x": {"field": "x", "type": "quantitative", "scale": {"domain": [0, 20], "nice": false}, "axis": null}, "y": {"field": "y", "type": "quantitative", "scale": {"domain": [0, 25], "nice": false}, "axis": null}, "text": {"field": "t"}}},
{"data": {"values": [{"x": 12.79, "y": 13.85, "t": "Severe drop"}]}, "mark": {"type": "text", "font": "Liberation Serif", "fontSize": 31, "align": "left", "baseline": "middle", "color": "#000"},
 "encoding": {"x": {"field": "x", "type": "quantitative", "scale": {"domain": [0, 20], "nice": false}, "axis": null}, "y": {"field": "y", "type": "quantitative", "scale": {"domain": [0, 25], "nice": false}, "axis": null}, "text": {"field": "t"}}},
{"data": {"values": [{"x": 14.58, "y": 11.5, "t": "Ib-value"}]}, "mark": {"type": "text", "font": "Liberation Serif", "fontSize": 26, "align": "left", "baseline": "middle", "color": "#000"},
 "encoding": {"x": {"field": "x", "type": "quantitative", "scale": {"domain": [0, 20], "nice": false}, "axis": null}, "y": {"field": "y", "type": "quantitative", "scale": {"domain": [0, 25], "nice": false}, "axis": null}, "text": {"field": "t"}}}
]
},
{
"width": 487, "height": 309,
"resolve": {"scale": {"y": "independent"}, "axis": {"x": "independent"}},
"layer": [
{"data": {"name": "c_ib"}, "mark": {"type": "line", "strokeWidth": 1.2, "color": "#4d6fa8", "point": {"filled": true, "size": 10, "opacity": 1, "color": "#4d5f98"}},
 "encoding": {
  "x": {"field": "x", "type": "quantitative", "scale": {"domain": [0, 20], "nice": false},
   "axis": {"title": "Deflection (mm)", "values": [0,0.5,1,1.5,2,2.5,3,3.5,4,4.5,5,5.5,6,6.5,7,7.5,8,8.5,9,9.5,10,10.5,11,11.5,12,12.5,13,13.5,14,14.5,15,15.5,16,16.5,17,17.5,18,18.5,19,19.5,20], "format": "~g", "labelOverlap": false, "labelExpr": "datum.value % 2 === 0 ? datum.label : ''", "tickSize": {"condition": {"test": "datum.value % 2 === 0", "value": 6}, "value": 4}, "labelFont": "Liberation Sans", "labelFontSize": 12, "labelColor": "#333", "titleFont": "Liberation Serif", "titleFontSize": 14, "titleColor": "#3a2a1a", "titleX": 224, "titleY": -11, "titleAlign": "center", "titleBaseline": "middle"}},
  "y": {"field": "y", "type": "quantitative", "scale": {"domain": [0.04, 0.1], "nice": false, "zero": false},
   "axis": {"title": "Ib-value", "orient": "right", "values": [0.04,0.042,0.044,0.046,0.048,0.05,0.052,0.054,0.056,0.058,0.06,0.062,0.064,0.066,0.068,0.07,0.072,0.074,0.076,0.078,0.08,0.082,0.084,0.086,0.088,0.09,0.092,0.094,0.096,0.098,0.1], "format": "~g", "labelOverlap": false, "labelExpr": "abs(datum.value*100 - round(datum.value*100)) < 0.001 ? datum.label : ''", "tickSize": {"condition": {"test": "abs(datum.value*100 - round(datum.value*100)) < 0.001", "value": 6}, "value": 3}, "labelFont": "Liberation Sans", "labelFontSize": 12, "labelColor": "#333", "titleFont": "Liberation Serif", "titleFontSize": 13, "titleColor": "#222", "titleX": 43, "titleY": 158, "titleAngle": -90, "titleAlign": "center", "titleBaseline": "middle"}}
 }},
{"data": {"name": "c_load"}, "mark": {"type": "line", "strokeWidth": 2.8},
 "encoding": {
  "x": {"field": "x", "type": "quantitative", "scale": {"domain": [0, 20], "nice": false}, "axis": null},
  "y": {"field": "y", "type": "quantitative", "scale": {"domain": [0, 25], "nice": false},
   "axis": {"title": "ILoad (kN)", "orient": "left", "values": [0,1,2,3,4,5,6,7,8,9,10,11,12,13,14,15,16,17,18,19,20,21,22,23,24,25], "labelOverlap": false, "labelExpr": "datum.value % 5 === 0 ? datum.label : ''", "tickSize": {"condition": {"test": "datum.value % 5 === 0", "value": 6}, "value": 4}, "labelFont": "Liberation Sans", "labelFontSize": 12, "labelColor": "#333", "titleFont": "Liberation Serif", "titleFontSize": 14, "titleColor": "#3a2a1a", "titleX": -30, "titleY": 161, "titleAngle": -90, "titleAlign": "center", "titleBaseline": "middle"}},
  "color": {"field": "s", "type": "nominal", "scale": {"domain": ["SC4LR5","SC6LR5","SC8LR5"], "range": ["#ff0000","#2f5597","#000000"]},
   "legend": {"title": null, "orient": "none", "legendX": 92, "legendY": 11, "direction": "horizontal", "symbolType": "stroke", "symbolSize": 529, "symbolStrokeWidth": 2.5, "labelFont": "Liberation Sans", "labelFontSize": 10, "labelColor": "#333", "columnPadding": 26, "labelOffset": 1}}
 }},
{"data": {"values": [{"x": 6.98, "y": 17.7, "x2": 3.7, "y2": 13.5}]}, "mark": {"type": "rule", "color": "#4a7ebb", "strokeWidth": 2},
 "encoding": {"x": {"field": "x", "type": "quantitative", "scale": {"domain": [0, 20], "nice": false}, "axis": null}, "y": {"field": "y", "type": "quantitative", "scale": {"domain": [0, 25], "nice": false}, "axis": null}, "x2": {"field": "x2"}, "y2": {"field": "y2"}}},
{"data": {"values": [{"x": 3.84, "y": 13.75}]}, "mark": {"type": "point", "shape": "M 1 -0.7 L -1 0 L 1 0.7", "size": 256, "filled": false, "color": "#4a7ebb", "strokeWidth": 2, "opacity": 1, "angle": -32.6},
 "encoding": {"x": {"field": "x", "type": "quantitative", "scale": {"domain": [0, 20], "nice": false}, "axis": null}, "y": {"field": "y", "type": "quantitative", "scale": {"domain": [0, 25], "nice": false}, "axis": null}}},
{"data": {"values": [{"x": -2.14, "y": 22.7, "t": "c)"}]}, "mark": {"type": "text", "font": "Liberation Serif", "fontSize": 26, "align": "left", "baseline": "middle", "color": "#111"},
 "encoding": {"x": {"field": "x", "type": "quantitative", "scale": {"domain": [0, 20], "nice": false}, "axis": null}, "y": {"field": "y", "type": "quantitative", "scale": {"domain": [0, 25], "nice": false}, "axis": null}, "text": {"field": "t"}}},
{"data": {"values": [{"x": 7.88, "y": 18.9, "t": "Severe drop"}]}, "mark": {"type": "text", "font": "Liberation Serif", "fontSize": 31, "align": "left", "baseline": "middle", "color": "#000"},
 "encoding": {"x": {"field": "x", "type": "quantitative", "scale": {"domain": [0, 20], "nice": false}, "axis": null}, "y": {"field": "y", "type": "quantitative", "scale": {"domain": [0, 25], "nice": false}, "axis": null}, "text": {"field": "t"}}},
{"data": {"values": [{"x": 9.65, "y": 16.75, "t": "Ib-value"}]}, "mark": {"type": "text", "font": "Liberation Serif", "fontSize": 26, "align": "left", "baseline": "middle", "color": "#000"},
 "encoding": {"x": {"field": "x", "type": "quantitative", "scale": {"domain": [0, 20], "nice": false}, "axis": null}, "y": {"field": "y", "type": "quantitative", "scale": {"domain": [0, 25], "nice": false}, "axis": null}, "text": {"field": "t"}}}
]
},
{
"width": 480, "height": 306,
"resolve": {"scale": {"y": "independent"}, "axis": {"x": "independent"}},
"layer": [
{"data": {"name": "d_ib"}, "mark": {"type": "line", "strokeWidth": 1.2, "strokeDash": [3, 2], "color": "#5a6aa8", "point": {"filled": true, "size": 12, "opacity": 1, "color": "#5b4f9a"}},
 "encoding": {
  "x": {"field": "x", "type": "quantitative", "scale": {"domain": [0, 20], "nice": false},
   "axis": {"title": "Deflection (mm)", "values": [0,1,2,3,4,5,6,7,8,9,10,11,12,13,14,15,16,17,18,19,20], "format": "~g", "labelOverlap": false, "labelExpr": "datum.value % 5 === 0 ? datum.label : ''", "tickSize": {"condition": {"test": "datum.value % 5 === 0", "value": 6}, "value": 4}, "labelFont": "Liberation Serif", "labelFontSize": 15, "labelColor": "#333", "titleFont": "Liberation Serif", "titleFontSize": 14, "titleColor": "#222", "titleX": 233, "titleY": -13, "titleAlign": "center", "titleBaseline": "middle"}},
  "y": {"field": "y", "type": "quantitative", "scale": {"domain": [0.05, 0.12], "nice": false, "zero": false},
   "axis": {"title": "Ib-value", "orient": "right", "values": [0.05,0.052,0.054,0.056,0.058,0.06,0.062,0.064,0.066,0.068,0.07,0.072,0.074,0.076,0.078,0.08,0.082,0.084,0.086,0.088,0.09,0.092,0.094,0.096,0.098,0.1,0.102,0.104,0.106,0.108,0.11,0.112,0.114,0.116,0.118,0.12], "format": "~g", "labelOverlap": false, "labelExpr": "abs(datum.value*100 - round(datum.value*100)) < 0.001 ? datum.label : ''", "tickSize": {"condition": {"test": "abs(datum.value*100 - round(datum.value*100)) < 0.001", "value": 6}, "value": 3}, "labelFont": "Liberation Serif", "labelFontSize": 15, "labelColor": "#333", "titleFont": "Liberation Serif", "titleFontSize": 13, "titleColor": "#222", "titleX": 52, "titleY": 155, "titleAngle": -90, "titleAlign": "center", "titleBaseline": "middle"}}
 }},
{"data": {"name": "d_load"}, "mark": {"type": "line", "strokeWidth": 2.5},
 "encoding": {
  "x": {"field": "x", "type": "quantitative", "scale": {"domain": [0, 20], "nice": false}, "axis": null},
  "y": {"field": "y", "type": "quantitative", "scale": {"domain": [0, 25], "nice": false},
   "axis": {"title": "Load (kN)", "orient": "left", "values": [0,1,2,3,4,5,6,7,8,9,10,11,12,13,14,15,16,17,18,19,20,21,22,23,24,25], "labelOverlap": false, "labelExpr": "datum.value % 5 === 0 ? datum.label : ''", "tickSize": {"condition": {"test": "datum.value % 5 === 0", "value": 6}, "value": 4}, "labelFont": "Liberation Serif", "labelFontSize": 15, "labelColor": "#333", "titleFont": "Liberation Serif", "titleFontSize": 13, "titleColor": "#222", "titleX": -37, "titleY": 155, "titleAngle": -90, "titleAlign": "center", "titleBaseline": "middle"}},
  "color": {"field": "s", "type": "nominal", "scale": {"domain": ["SC4LR10","SC6LR10","SC8LR10"], "range": ["#ff0000","#2f5b8f","#000000"]},
   "legend": {"title": null, "orient": "none", "legendX": 89, "legendY": 5, "direction": "horizontal", "symbolType": "stroke", "symbolSize": 625, "symbolStrokeWidth": 2.5, "labelFont": "Liberation Serif", "labelFontSize": 14, "labelColor": "#333", "columnPadding": 22, "labelOffset": 2}}
 }},
{"data": {"values": [{"x": 8.49, "y": 17.8, "x2": 2.3, "y2": 13.45}]}, "mark": {"type": "rule", "color": "#4a7ebb", "strokeWidth": 2},
 "encoding": {"x": {"field": "x", "type": "quantitative", "scale": {"domain": [0, 20], "nice": false}, "axis": null}, "y": {"field": "y", "type": "quantitative", "scale": {"domain": [0, 25], "nice": false}, "axis": null}, "x2": {"field": "x2"}, "y2": {"field": "y2"}}},
{"data": {"values": [{"x": 2.48, "y": 13.64}]}, "mark": {"type": "point", "shape": "M 1 -0.7 L -1 0 L 1 0.7", "size": 256, "filled": false, "color": "#4a7ebb", "strokeWidth": 2, "opacity": 1, "angle": -19.4},
 "encoding": {"x": {"field": "x", "type": "quantitative", "scale": {"domain": [0, 20], "nice": false}, "axis": null}, "y": {"field": "y", "type": "quantitative", "scale": {"domain": [0, 25], "nice": false}, "axis": null}}},
{"data": {"values": [{"x": -2.125, "y": 23.3, "t": "d)"}]}, "mark": {"type": "text", "font": "Liberation Serif", "fontSize": 26, "align": "left", "baseline": "middle", "color": "#111"},
 "encoding": {"x": {"field": "x", "type": "quantitative", "scale": {"domain": [0, 20], "nice": false}, "axis": null}, "y": {"field": "y", "type": "quantitative", "scale": {"domain": [0, 25], "nice": false}, "axis": null}, "text": {"field": "t"}}},
{"data": {"values": [{"x": 8.42, "y": 18.8, "t": "Severe drop"}]}, "mark": {"type": "text", "font": "Liberation Serif", "fontSize": 31, "align": "left", "baseline": "middle", "color": "#000"},
 "encoding": {"x": {"field": "x", "type": "quantitative", "scale": {"domain": [0, 20], "nice": false}, "axis": null}, "y": {"field": "y", "type": "quantitative", "scale": {"domain": [0, 25], "nice": false}, "axis": null}, "text": {"field": "t"}}},
{"data": {"values": [{"x": 10.0, "y": 17.0, "t": "Ib-value"}]}, "mark": {"type": "text", "font": "Liberation Serif", "fontSize": 25, "align": "left", "baseline": "middle", "color": "#000"},
 "encoding": {"x": {"field": "x", "type": "quantitative", "scale": {"domain": [0, 20], "nice": false}, "axis": null}, "y": {"field": "y", "type": "quantitative", "scale": {"domain": [0, 25], "nice": false}, "axis": null}, "text": {"field": "t"}}}
]
}
]
}
